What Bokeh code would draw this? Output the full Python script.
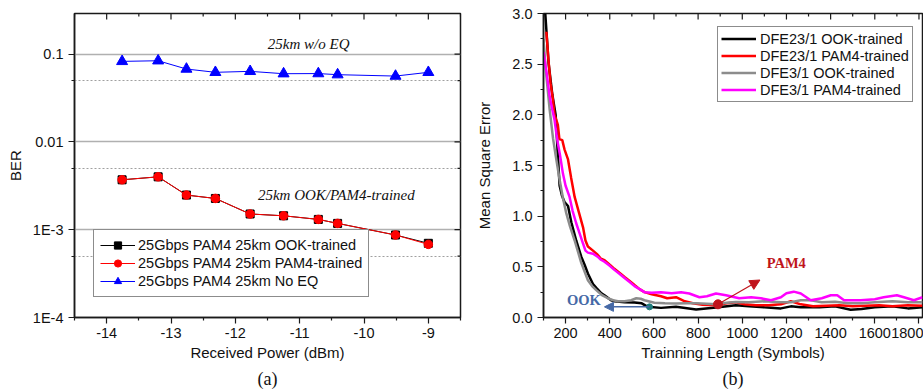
import math
from bokeh.plotting import figure
from bokeh.layouts import row
from bokeh.models import (FixedTicker, Legend, LegendItem, Title,
                          Arrow, NormalHead, Range1d, NumeralTickFormatter)
from bokeh.core.properties import value
from bokeh.embed import file_html
from bokeh.resources import INLINE

SANS = "Liberation Sans"
SERIF = "Liberation Serif"

# ---------------- Panel (a) data ----------------
power_dbm = [-13.76, -13.2, -12.76, -12.31, -11.77, -11.25, -10.71, -10.41, -9.51, -9.0]
ber_ook_trained = [3.70e-3, 4.0e-3, 2.48e-3, 2.27e-3, 1.51e-3, 1.44e-3, 1.31e-3, 1.18e-3, 8.7e-4, 7.0e-4]
ber_pam4_trained = [3.70e-3, 4.0e-3, 2.48e-3, 2.27e-3, 1.51e-3, 1.44e-3, 1.31e-3, 1.18e-3, 8.7e-4, 6.8e-4]
ber_no_eq = [0.0826, 0.084, 0.0676, 0.062, 0.0636, 0.0598, 0.060, 0.0583, 0.0562, 0.062]
a_xticks = [-14, -13, -12, -11, -10, -9]
a_xminor = [-14.5, -13.5, -12.5, -11.5, -10.5, -9.5, -8.5]
a_xlabels = ["-14", "-13", "-12", "-11", "-10", "-9"]
a_yticks = [1e-4, 1e-3, 1e-2, 1e-1]
a_ylabels = ["1E-4", "1E-3", "0.01", "0.1"]
a_yminor = [5e-4, 5e-3, 5e-2]
a_legend = ["25Gbps PAM4 25km OOK-trained", "25Gbps PAM4 25km PAM4-trained", "25Gbps PAM4 25km No EQ"]
a_note1 = ("25km w/o EQ", -10.86, 0.129)
a_note2 = ("25km OOK/PAM4-trained", -10.43, 2.47e-3)

# ---------------- Panel (b) data ----------------
blk_x = [108, 123, 140, 155, 165, 173, 184, 195, 211, 226, 248, 271, 286, 301, 324, 340, 361, 376, 406,
         421, 467, 512, 545, 572, 632, 700, 791, 881, 971, 1030, 1100, 1175, 1220, 1265, 1350, 1420,
         1491, 1540, 1600, 1680, 1750, 1816]
blk_y = [3.0, 2.51, 2.2, 2.0, 1.6, 1.3, 1.2, 1.14, 1.10, 0.94, 0.76, 0.60, 0.52, 0.434, 0.33, 0.29,
         0.24, 0.22, 0.17, 0.16, 0.15, 0.148, 0.14, 0.105, 0.095, 0.105, 0.08, 0.099, 0.12, 0.11, 0.10,
         0.09, 0.11, 0.10, 0.10, 0.11, 0.076, 0.085, 0.10, 0.11, 0.09, 0.10]

red_x = [113, 122, 132, 141, 150, 158, 165, 172, 185, 195, 211, 225, 241, 260, 279, 290, 301, 324, 345,
         360, 376, 400, 421, 445, 467, 490, 512, 535, 557, 590, 632, 660, 700, 740, 776, 820, 881, 930,
         971, 1010, 1060, 1120, 1175, 1220, 1265, 1320, 1380, 1440, 1500, 1560, 1620, 1680, 1750, 1816]
red_y = [2.82, 2.55, 2.31, 2.18, 2.0, 1.95, 1.90, 1.76, 1.75, 1.66, 1.56, 1.38, 1.19, 1.04, 0.89, 0.76,
         0.70, 0.66, 0.62, 0.58, 0.566, 0.52, 0.48, 0.44, 0.40, 0.36, 0.32, 0.28, 0.25, 0.23, 0.21, 0.19,
         0.20, 0.16, 0.14, 0.125, 0.12, 0.14, 0.15, 0.13, 0.12, 0.12, 0.13, 0.16, 0.13, 0.11, 0.115, 0.12,
         0.11, 0.115, 0.12, 0.11, 0.12, 0.115]

gry_x = [100, 110, 128, 143, 155, 173, 188, 203, 220, 241, 271, 301, 320, 339, 365, 391, 415, 437, 467,
         497, 520, 540, 557, 602, 650, 700, 750, 791, 840, 881, 930, 971, 1030, 1100, 1175, 1220, 1265,
         1310, 1360, 1420, 1480, 1540, 1600, 1680, 1750, 1816]
gry_y = [2.75, 2.45, 2.05, 1.77, 1.6, 1.36, 1.18, 1.03, 0.9, 0.76, 0.54, 0.368, 0.31, 0.27, 0.22, 0.19,
         0.17, 0.16, 0.16, 0.17, 0.19, 0.185, 0.17, 0.145, 0.14, 0.138, 0.14, 0.14, 0.135, 0.13, 0.145,
         0.154, 0.15, 0.16, 0.15, 0.15, 0.17, 0.17, 0.15, 0.155, 0.14, 0.14, 0.15, 0.16, 0.15, 0.15]

mag_x = [100, 115, 128, 140, 150, 158, 165, 175, 188, 200, 218, 232, 248, 265, 279, 290, 301, 324, 345,
         360, 376, 400, 421, 445, 467, 490, 512, 535, 557, 590, 632, 680, 723, 760, 806, 840, 881, 926,
         986, 1040, 1084, 1130, 1175, 1200, 1233, 1265, 1310, 1360, 1401, 1430, 1461, 1536, 1600, 1640,
         1700, 1732, 1777, 1816]
mag_y = [2.62, 2.4, 2.18, 2.05, 1.95, 1.82, 1.72, 1.6, 1.42, 1.3, 1.19, 1.05, 0.93, 0.82, 0.73, 0.66,
         0.64, 0.63, 0.60, 0.57, 0.55, 0.51, 0.47, 0.43, 0.39, 0.35, 0.31, 0.28, 0.25, 0.245, 0.25, 0.24,
         0.25, 0.237, 0.20, 0.21, 0.237, 0.22, 0.19, 0.20, 0.19, 0.17, 0.20, 0.24, 0.255, 0.237, 0.17,
         0.19, 0.22, 0.22, 0.17, 0.17, 0.18, 0.20, 0.22, 0.20, 0.17, 0.20]

b_xticks = [200, 400, 600, 800, 1000, 1200, 1400, 1600, 1800]
b_xminor = [100, 300, 500, 700, 900, 1100, 1300, 1500, 1700]
b_yticks = [0.0, 0.5, 1.0, 1.5, 2.0, 2.5, 3.0]
b_yminor = [0.25, 0.75, 1.25, 1.75, 2.25, 2.75]
b_legend = ["DFE23/1 OOK-trained", "DFE23/1 PAM4-trained", "DFE3/1 OOK-trained", "DFE3/1 PAM4-trained"]
ook_note = ("OOK", 283, 0.17)
ook_arrow = (580, 0.105, 376, 0.105)
pam4_note = ("PAM4", 1199, 0.54)
pam4_arrow = (890, 0.13, 1080, 0.37)

FRAME = "#1a1a1a"
W1, H = 470, 392
W2 = 453
BL1, BR1, BT, BB = 74, 10, 12, 75
BL2, BR2, BT2 = 73, 1, 13
A_X = (-14.5, -8.5)
A_Y = (1e-4, 0.29)
B_X = (100, 1816)
B_Y = (0.0, 3.0)


def style_axis(ax):
    ax.axis_line_color = FRAME
    ax.axis_line_width = 1.5
    ax.major_tick_line_color = FRAME
    ax.minor_tick_line_color = FRAME
    ax.major_tick_line_width = 1.2
    ax.minor_tick_line_width = 1.2
    ax.major_tick_in, ax.major_tick_out = 0, 6
    ax.minor_tick_in, ax.minor_tick_out = 0, 3
    ax.major_label_text_font = SANS
    ax.major_label_text_color = "#111111"
    ax.major_label_text_font_size = "14.5px"
    ax.axis_label_text_font = SANS
    ax.axis_label_text_font_style = "normal"
    ax.axis_label_text_font_size = "15px"
    ax.axis_label_text_color = "#111111"


# ================= Panel (a) =================
p1 = figure(width=W1, height=H, x_range=Range1d(*A_X), y_range=Range1d(*A_Y),
            y_axis_type="log", output_backend="svg", toolbar_location=None,
            min_border_left=BL1, min_border_right=BR1, min_border_top=BT, min_border_bottom=BB)
p1.outline_line_color = FRAME
p1.outline_line_width = 1.5
p1.background_fill_color = "white"
p1.border_fill_color = "white"

xt = FixedTicker(ticks=a_xticks, minor_ticks=a_xminor)
yt = FixedTicker(ticks=a_yticks, minor_ticks=a_yminor)
p1.xaxis.ticker = xt
p1.yaxis.ticker = yt
p1.xaxis.major_label_overrides = {t: s for t, s in zip(a_xticks, a_xlabels)}
p1.yaxis.major_label_overrides = {t: s for t, s in zip(a_yticks, a_ylabels)}
p1.xaxis.axis_label = "Received Power (dBm)"
p1.yaxis.axis_label = "BER"
style_axis(p1.xaxis[0])
style_axis(p1.yaxis[0])
p1.xaxis.major_label_standoff = 4
p1.xaxis.axis_label_standoff = 3
p1.yaxis.axis_label_standoff = 6

p1.xgrid.visible = False
p1.ygrid.ticker = yt
p1.ygrid.grid_line_color = "#b0b0b0"
p1.ygrid.grid_line_width = 1.5
p1.ygrid.minor_grid_line_color = "#a0a0a0"
p1.ygrid.minor_grid_line_width = 1
p1.ygrid.minor_grid_line_dash = "2 2"

# mirrored inward ticks (top and right)
fh1 = H - BT - BB
fw1 = W1 - BL1 - BR1
dec_per_px = math.log10(A_Y[1] / A_Y[0]) / fh1
dx_per_px = (A_X[1] - A_X[0]) / fw1
for ticks, ln in ((a_xticks, 6), (a_xminor, 3)):
    p1.segment(x0=ticks, y0=[A_Y[1]] * len(ticks), x1=ticks,
               y1=[A_Y[1] / 10 ** (ln * dec_per_px)] * len(ticks), line_color=FRAME, line_width=1.2)
for ticks, ln in ((a_yticks, 6), (a_yminor, 3)):
    p1.segment(x0=[A_X[1]] * len(ticks), y0=ticks, x1=[A_X[1] - ln * dx_per_px] * len(ticks),
               y1=ticks, line_color=FRAME, line_width=1.2)

l_blk = p1.line(power_dbm, ber_ook_trained, line_color="black", line_width=1)
m_blk = p1.scatter(power_dbm, ber_ook_trained, marker="square", size=8, fill_color="black", line_color="black")
l_red = p1.line(power_dbm, ber_pam4_trained, line_color="#ff0000", line_width=1)
m_red = p1.scatter(power_dbm, ber_pam4_trained, marker="circle", size=8.5, fill_color="#ff0000", line_color="#ff0000")
l_blu = p1.line(power_dbm, ber_no_eq, line_color="#0000ff", line_width=1)
m_blu = p1.scatter(power_dbm, ber_no_eq, marker="triangle", size=11, fill_color="#0000ff", line_color="#0000ff")

p1.text(x=[a_note1[1]], y=[a_note1[2]], text=[a_note1[0]], text_font=value(SERIF),
        text_font_style="italic", text_font_size="15px", text_align="center", text_baseline="middle",
        text_color="#111111")
p1.text(x=[a_note2[1]], y=[a_note2[2]], text=[a_note2[0]], text_font=value(SERIF),
        text_font_style="italic", text_font_size="15px", text_align="center", text_baseline="middle",
        text_color="#111111")

leg1 = Legend(items=[LegendItem(label=a_legend[0], renderers=[l_blk, m_blk]),
                     LegendItem(label=a_legend[1], renderers=[l_red, m_red]),
                     LegendItem(label=a_legend[2], renderers=[l_blu, m_blu])],
              location=(19, 20), orientation="vertical")
leg1.label_text_font = SANS
leg1.label_text_font_size = "14.5px"
leg1.label_text_color = "#111111"
leg1.glyph_width = 35
leg1.glyph_height = 18
leg1.label_height = 18
leg1.spacing = 0
leg1.padding = 6
leg1.margin = 0
leg1.label_standoff = 3
leg1.border_line_color = FRAME
leg1.border_line_width = 1.2
leg1.background_fill_alpha = 1
p1.add_layout(leg1, "center")

p1.add_layout(Title(text="(a)", align="center", text_font=SERIF, text_font_size="18px",
                    text_font_style="normal", text_color="#111111", standoff=6), "below")

# ================= Panel (b) =================
p2 = figure(width=W2, height=H, x_range=Range1d(*B_X), y_range=Range1d(*B_Y),
            output_backend="svg", toolbar_location=None,
            min_border_left=BL2, min_border_right=BR2, min_border_top=BT2, min_border_bottom=BB)
p2.outline_line_color = FRAME
p2.outline_line_width = 1.5
p2.background_fill_color = "white"
p2.border_fill_color = "white"
p2.xgrid.visible = False
p2.ygrid.visible = False

xt2 = FixedTicker(ticks=b_xticks, minor_ticks=b_xminor)
yt2 = FixedTicker(ticks=b_yticks, minor_ticks=b_yminor)
p2.xaxis.ticker = xt2
p2.yaxis.ticker = yt2
p2.yaxis.formatter = NumeralTickFormatter(format="0.0")
p2.xaxis.axis_label = "Trainning Length (Symbols)"
p2.yaxis.axis_label = "Mean Square Error"
style_axis(p2.xaxis[0])
style_axis(p2.yaxis[0])
p2.xaxis.major_label_standoff = 4
p2.xaxis.axis_label_standoff = 3
p2.yaxis.axis_label_standoff = 16

fh2 = H - BT2 - BB
dy_per_px2 = (B_Y[1] - B_Y[0]) / fh2
for ticks, ln in ((b_xticks, 6), (b_xminor, 3)):
    p2.segment(x0=ticks, y0=[B_Y[1]] * len(ticks), x1=ticks,
               y1=[B_Y[1] - ln * dy_per_px2] * len(ticks), line_color=FRAME, line_width=1.2)

r_blk = p2.line(blk_x, blk_y, line_color="black", line_width=2.5)
r_red = p2.line(red_x, red_y, line_color="#ff0000", line_width=2.5)
r_gry = p2.line(gry_x, gry_y, line_color="#8c8c8c", line_width=2.5)
r_mag = p2.line(mag_x, mag_y, line_color="#ff00ff", line_width=2.5)

OOK_C = "#4669a6"
PAM_C = "#c0141c"
p2.add_layout(Arrow(end=NormalHead(size=9, fill_color=OOK_C, line_color=OOK_C),
                    x_start=ook_arrow[0], y_start=ook_arrow[1], x_end=ook_arrow[2], y_end=ook_arrow[3],
                    line_color=OOK_C, line_width=1.5))
p2.scatter([ook_arrow[0]], [ook_arrow[1]], marker="circle", size=6, fill_color="#1e7b7b", line_color="#1e7b7b")
p2.add_layout(Arrow(end=NormalHead(size=10, fill_color=PAM_C, line_color=PAM_C),
                    x_start=pam4_arrow[0], y_start=pam4_arrow[1], x_end=pam4_arrow[2], y_end=pam4_arrow[3],
                    line_color=PAM_C, line_width=1.2))
p2.scatter([pam4_arrow[0]], [pam4_arrow[1]], marker="circle", size=9, fill_color=PAM_C, line_color=PAM_C)
p2.text(x=[ook_note[1]], y=[ook_note[2]], text=[ook_note[0]], text_font=value(SERIF),
        text_font_style="bold", text_font_size="14.5px", text_align="center", text_baseline="middle",
        text_color=OOK_C)
p2.text(x=[pam4_note[1]], y=[pam4_note[2]], text=[pam4_note[0]], text_font=value(SERIF),
        text_font_style="bold", text_font_size="14.5px", text_align="center", text_baseline="middle",
        text_color=PAM_C)

leg2 = Legend(items=[LegendItem(label=b_legend[0], renderers=[r_blk]),
                     LegendItem(label=b_legend[1], renderers=[r_red]),
                     LegendItem(label=b_legend[2], renderers=[r_gry]),
                     LegendItem(label=b_legend[3], renderers=[r_mag])],
              location=(174, 215), orientation="vertical")
leg2.label_text_font = SANS
leg2.label_text_font_size = "14.5px"
leg2.label_text_color = "#111111"
leg2.glyph_width = 35
leg2.glyph_height = 17
leg2.label_height = 17
leg2.spacing = 0
leg2.padding = 3
leg2.margin = 0
leg2.label_standoff = 4
leg2.border_line_color = FRAME
leg2.border_line_width = 1.2
p2.add_layout(leg2, "center")

p2.add_layout(Title(text="(b)", align="center", text_font=SERIF, text_font_size="18px",
                    text_font_style="normal", text_color="#111111", standoff=6, offset=24), "below")

layout = row(p1, p2, spacing=0)
open("out.html", "w").write(file_html(layout, INLINE))
